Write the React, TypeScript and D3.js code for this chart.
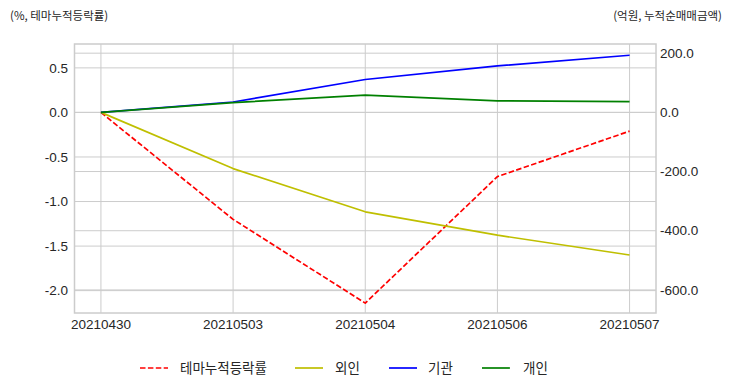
import React from "react";
import * as d3 from "d3";

const categories = ["20210430", "20210503", "20210504", "20210506", "20210507"];
const themeReturn = [0, -1.2, -2.14, -0.72, -0.21];
const foreign = [0, -190, -336, -415, -482];
const institution = [0, 35, 111, 157, 193];
const individual = [0, 33, 58, 39, 36];
const leftTicks = [0.5, 0.0, -0.5, -1.0, -1.5, -2.0];
const rightTicks = [200, 0, -200, -400, -600];
const legendLabels = ["테마누적등락률", "외인", "기관", "개인"];

const W = 732, H = 392;
const L = 74.5, R = 656, T = 44, B = 313;
const gridColor = "#cccccc";
const textColor = "#262626";
const latin = "'Liberation Sans', Arial, sans-serif";
const kr = "'Noto Sans CJK KR', sans-serif";

export default function App() {
  const x = d3.scaleLinear().domain([-0.2, categories.length - 1 + 0.2]).range([L, R]);
  const yL = d3.scaleLinear().domain([-2.251, 0.768]).range([B, T]);
  const yR = d3.scaleLinear().domain([-678, 231]).range([B, T]);

  const lineL = d3.line<number>().x((_, i) => x(i)).y((d) => yL(d));
  const lineR = d3.line<number>().x((_, i) => x(i)).y((d) => yR(d));

  const series = [
    { label: legendLabels[0], color: "#ff0000", dash: "5.5,2.4", path: lineL(themeReturn) },
    { label: legendLabels[1], color: "#bfbf00", dash: undefined, path: lineR(foreign) },
    { label: legendLabels[2], color: "#0000ff", dash: undefined, path: lineR(institution) },
    { label: legendLabels[3], color: "#008000", dash: undefined, path: lineR(individual) },
  ];

  const legendX = [140, 295, 389, 482];
  const legendTextX = [180, 335, 428, 523];
  const legendY = 368;

  return (
    <svg width={W} height={H} style={{ position: "absolute", left: 0, top: 0, background: "#fff" }}>
      <rect x={0} y={0} width={W} height={H} fill="#fff" />
      {leftTicks.map((t) => (
        <line key={"gl" + t} x1={L} x2={R} y1={yL(t)} y2={yL(t)} stroke={gridColor} strokeWidth={1} />
      ))}
      {rightTicks.map((t) => (
        <line key={"gr" + t} x1={L} x2={R} y1={yR(t)} y2={yR(t)} stroke={gridColor} strokeWidth={1} />
      ))}
      {categories.map((c, i) => (
        <line key={"gx" + c} x1={x(i)} x2={x(i)} y1={T} y2={B} stroke={gridColor} strokeWidth={1} />
      ))}
      {series.map((s) => (
        <path key={s.label} d={s.path || ""} fill="none" stroke={s.color} strokeWidth={1.7}
          strokeDasharray={s.dash} strokeLinejoin="round" />
      ))}
      <rect x={L} y={T} width={R - L} height={B - T} fill="none" stroke={gridColor} strokeWidth={1.5} />
      {leftTicks.map((t) => (
        <text key={"tl" + t} x={68} y={yL(t)} dy="0.35em" textAnchor="end" fontFamily={latin}
          fontSize={13.5} fill={textColor}>{t.toFixed(1)}</text>
      ))}
      {rightTicks.map((t) => (
        <text key={"tr" + t} x={660} y={yR(t)} dy="0.35em" textAnchor="start" fontFamily={latin}
          fontSize={13.5} fill={textColor}>{t.toFixed(1)}</text>
      ))}
      {categories.map((c, i) => (
        <text key={"tx" + c} x={x(i)} y={324} dy="0.35em" textAnchor="middle" fontFamily={latin}
          fontSize={13.5} fill={textColor}>{c}</text>
      ))}
      <text x={10} y={16} dy="0.35em" fontFamily={kr} fontSize={11.5} fill={textColor}>(%, 테마누적등락률)</text>
      <text x={722} y={16} dy="0.35em" textAnchor="end" fontFamily={kr} fontSize={11.5} fill={textColor}>(억원, 누적순매매금액)</text>
      {series.map((s, i) => (
        <g key={"lg" + s.label}>
          <line x1={legendX[i]} x2={legendX[i] + 28} y1={legendY} y2={legendY} stroke={s.color}
            strokeWidth={1.7} strokeDasharray={s.dash} />
          <text x={legendTextX[i]} y={legendY} dy="0.35em" fontFamily={kr} fontSize={13.5}
            fill={textColor}>{s.label}</text>
        </g>
      ))}
    </svg>
  );
}
